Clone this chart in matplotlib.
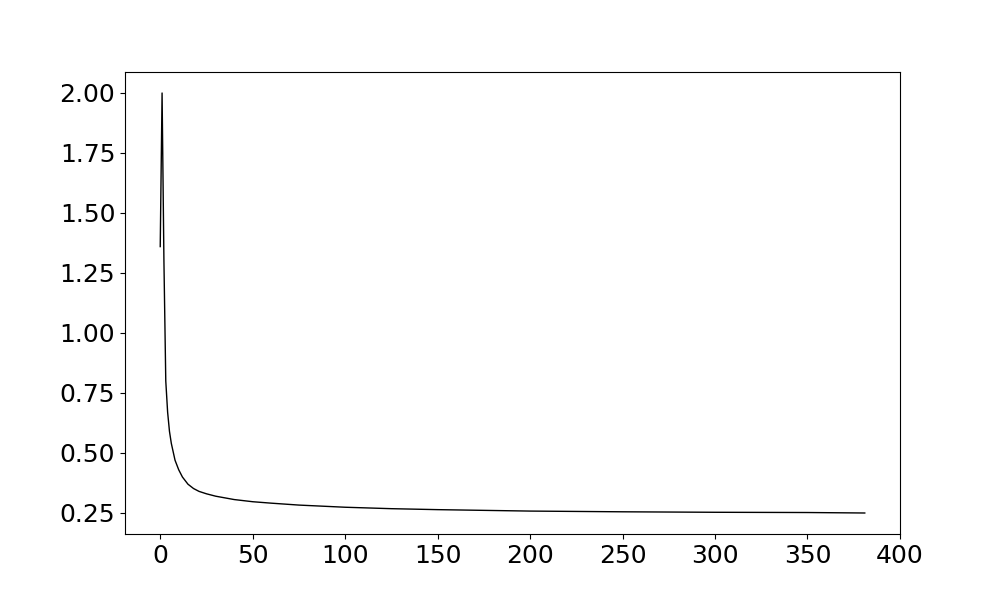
import matplotlib
matplotlib.use("Agg")
import matplotlib.pyplot as plt

steps = [0, 1, 2, 3, 4, 5, 6, 8, 10, 12, 15, 18, 21, 25, 30, 40, 50, 60, 75,
         100, 125, 150, 200, 250, 300, 350, 381]
loss = [1.36, 2.00, 1.30, 0.80, 0.67, 0.59, 0.54, 0.47, 0.43, 0.40, 0.37,
        0.352, 0.34, 0.33, 0.32, 0.306, 0.297, 0.291, 0.283,
        0.274, 0.268, 0.264, 0.258, 0.255, 0.253, 0.252, 0.250]

plt.rcParams['font.size'] = 18

fig = plt.figure(figsize=(10, 6), dpi=100)
ax = fig.add_subplot(111)
ax.plot(steps, loss, color='k', linewidth=1)

fig.savefig("out.png", dpi=100)
